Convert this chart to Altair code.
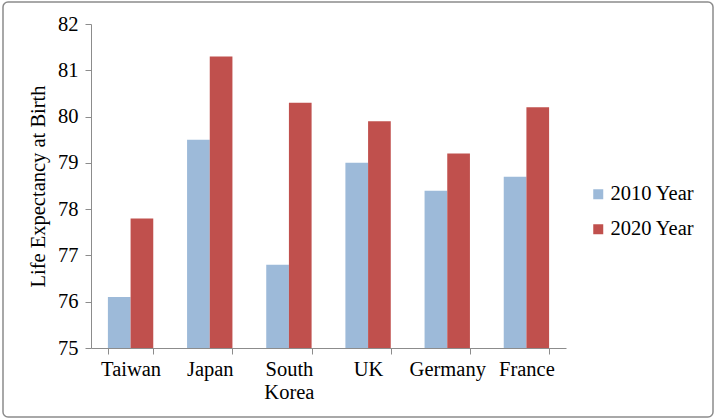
import altair as alt
import pandas as pd

countries = ["Taiwan", "Japan", "South Korea", "UK", "Germany", "France"]
series = ["2010 Year", "2020 Year"]
values_2010 = [76.1, 79.5, 76.8, 79.0, 78.4, 78.7]
values_2020 = [77.8, 81.3, 80.3, 79.9, 79.2, 80.2]
y_ticks = [75, 76, 77, 78, 79, 80, 81, 82]
colors = ["#9DBAD9", "#C0504D"]

rows = []
for c, v1, v2 in zip(countries, values_2010, values_2020):
    rows.append({"country": c, "series": series[0], "value": v1})
    rows.append({"country": c, "series": series[1], "value": v2})
df = pd.DataFrame(rows)

W, H = 475, 324
PL, PT, PR, PB = 91, 24, 150, 72
FONT = "Liberation Serif"
FS = 20.5

bars = alt.Chart(df).mark_bar(clip=True).encode(
    x=alt.X("country:N", sort=countries,
            scale=alt.Scale(paddingInner=0.427, paddingOuter=0.2135),
            axis=alt.Axis(title=None, labelAngle=0, tickBand="extent",
                          labelExpr="datum.label == 'South Korea' ? ['South', 'Korea'] : datum.label",
                          labelLineHeight=23, labelPadding=5, tickSize=6,
                          labelFontSize=FS)),
    xOffset=alt.XOffset("series:N", sort=series, scale=alt.Scale(paddingInner=0, paddingOuter=0)),
    y=alt.Y("value:Q", scale=alt.Scale(domain=[75, 82], nice=False, zero=False),
            axis=alt.Axis(title="Life Expectancy at Birth", values=y_ticks, format="d",
                          grid=False, tickSize=6, labelPadding=7, labelFontSize=FS,
                          titleFontSize=FS, titleFontWeight="normal", titlePadding=9)),
    y2=alt.datum(75),
    color=alt.Color("series:N", sort=series,
                    scale=alt.Scale(domain=series, range=colors),
                    legend=alt.Legend(title=None, orient="none", legendX=497, legendY=160,
                                      symbolType="square", symbolSize=100,
                                      labelFontSize=FS, rowPadding=14,
                                      symbolStrokeWidth=0, labelOffset=2)),
)

border = alt.Chart(pd.DataFrame({"a": [0]})).mark_rect(
    fill=None, stroke="#8C8C8C", strokeWidth=1.5, cornerRadius=5
).encode(
    x=alt.value(-(PL - 3)), x2=alt.value(W + PR - 3),
    y=alt.value(-(PT - 2)), y2=alt.value(H + PB - 3),
)

chart = alt.layer(bars, border).properties(
    width=W, height=H,
    padding={"left": PL, "top": PT, "right": PR, "bottom": PB},
    autosize=alt.AutoSizeParams(type="none"),
    background="white",
).configure_view(stroke=None).configure_axis(
    domainColor="#8C8C8C", tickColor="#8C8C8C", labelColor="black", titleColor="black",
    labelFont=FONT, titleFont=FONT,
).configure_legend(labelFont=FONT, labelColor="black")

chart.save("out.html", embed_options={"renderer": "svg", "actions": False})
